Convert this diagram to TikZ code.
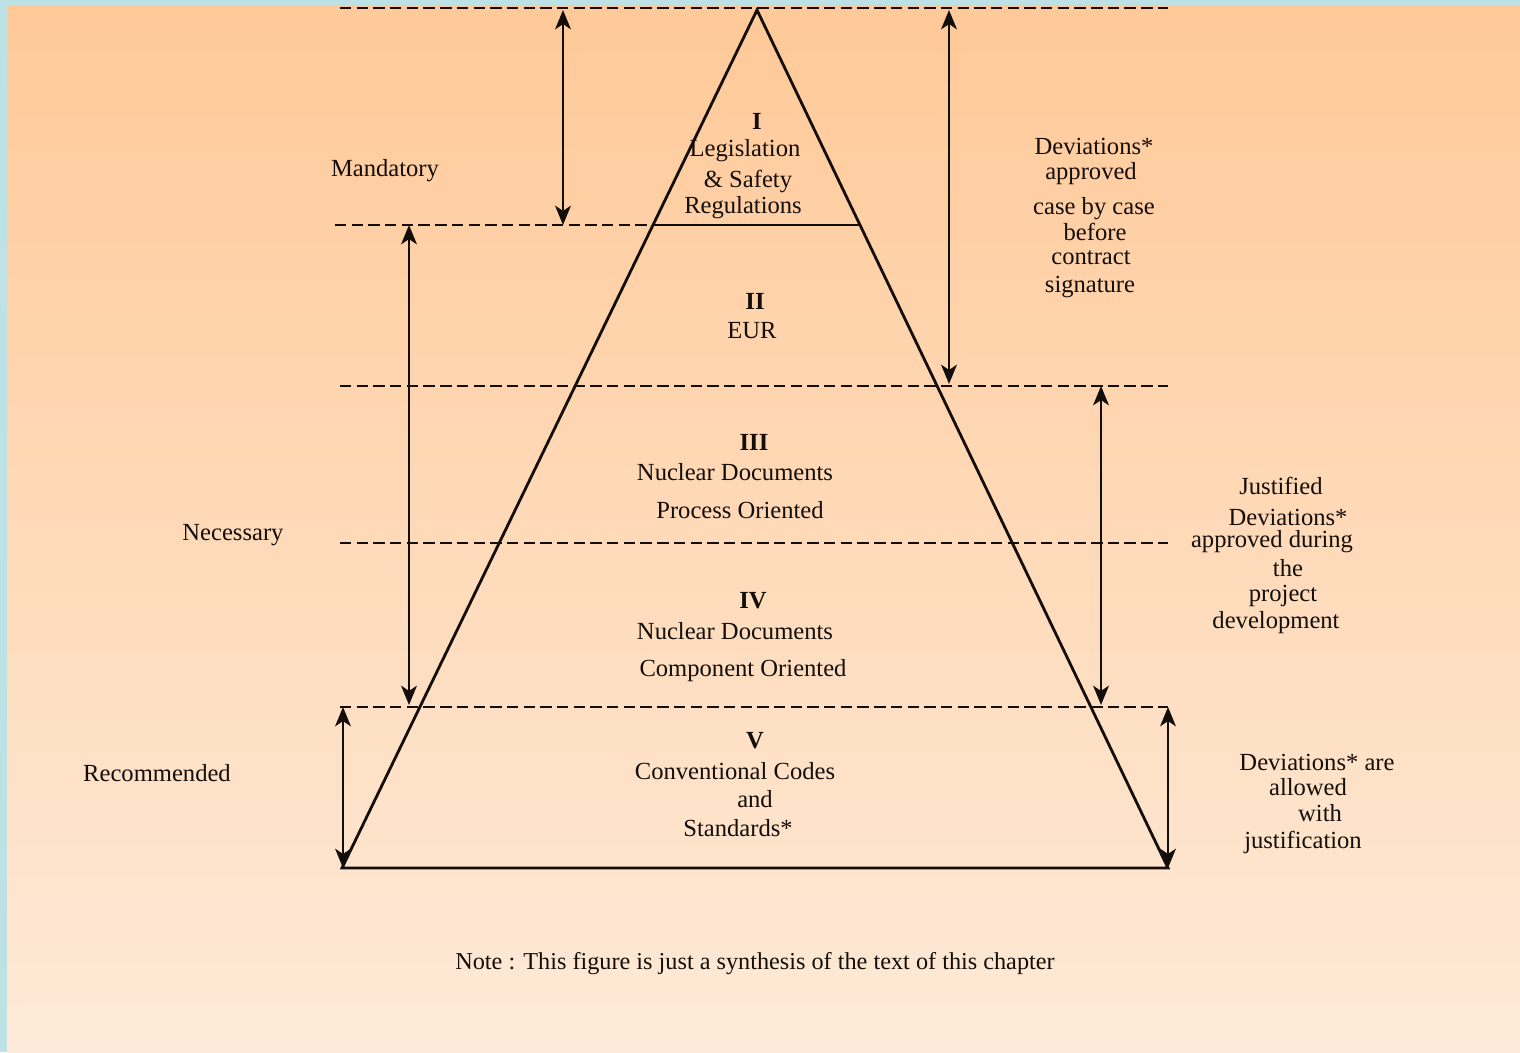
\documentclass[tikz,border=0pt]{standalone}
\usepackage{fontspec}
\setmainfont{Liberation Serif}
\usetikzlibrary{arrows.meta}
\definecolor{bluebord}{HTML}{BDE2E6}
\definecolor{peachtop}{HTML}{FFC998}
\definecolor{peachbot}{HTML}{FEEAD8}
\definecolor{ink}{HTML}{140E0A}
\tikzset{
  lvl/.style={draw=ink, line width=1.4pt, dash pattern=on 6.5pt off 3pt},
  edge/.style={draw=ink, line width=1.6pt},
  span/.style={draw=ink, line width=1.2pt, {Stealth[length=11pt,width=9pt,inset=3pt]}-{Stealth[length=11pt,width=9pt,inset=3pt]}},
  lbl/.style={text=ink, font=\fontsize{14}{14}\selectfont, inner sep=0pt, align=center},
  roman/.style={lbl, font=\fontsize{14}{14}\selectfont\bfseries},
}
\begin{document}
\begin{tikzpicture}[x=0.02cm,y=-0.02cm]
\useasboundingbox (0,0) rectangle (1520,1052);
\fill[bluebord] (0,0) rectangle (1520,1052);
\shade[top color=peachtop, bottom color=peachbot] (7,5) rectangle (1520,1052);

% pyramid vertices
\coordinate (apex) at (757,10);
\coordinate (bl) at (342,868);
\coordinate (br) at (1168,868);
\coordinate (s1l) at (653,225);
\coordinate (s1r) at (861,225);

% level lines
\coordinate (l0a) at (340,8);   \coordinate (l0b) at (1168,8);
\coordinate (l1a) at (335,225);
\coordinate (l2a) at (340,386); \coordinate (l2b) at (1168,386);
\coordinate (l3a) at (340,543); \coordinate (l3b) at (1168,543);
\coordinate (l4a) at (340,707); \coordinate (l4b) at (1168,707);

\draw[lvl] (l0a) -- (l0b);
\draw[lvl] (l1a) -- (s1l);
\draw[lvl] (l2a) -- (l2b);
\draw[lvl] (l3a) -- (l3b);
\draw[lvl] (l4a) -- (l4b);

\draw[edge] (s1l) -- (s1r);
\draw[edge, line join=miter] (bl) -- (apex) -- (br) -- cycle;

% span arrows
\coordinate (m1) at (563,10);  \coordinate (m2) at (563,225);
\coordinate (n1) at (409,225); \coordinate (n2) at (409,705);
\coordinate (r1) at (343,707); \coordinate (r2) at (343,868);
\coordinate (d1) at (949,10);  \coordinate (d2) at (949,384);
\coordinate (j1) at (1101,386); \coordinate (j2) at (1101,705);
\coordinate (a1) at (1168,707); \coordinate (a2) at (1168,868);
\draw[span] (m1) -- (m2);
\draw[span] (n1) -- (n2);
\draw[span] (r1) -- (r2);
\draw[span] (d1) -- (d2);
\draw[span] (j1) -- (j2);
\draw[span] (a1) -- (a2);

% level texts
\node[roman] (t1) at (757,121) {I};
\node[lbl] (t1a) at (745,151) {Legislation};
\node[lbl] (t1b) at (748,181) {\& Safety};
\node[lbl] (t1c) at (743,208) {Regulations};
\node[roman] (t2) at (755,301) {II};
\node[lbl] (t2a) at (752,331) {EUR};
\node[roman] (t3) at (754,442) {III};
\node[lbl] (t3a) at (735,472) {Nuclear Documents};
\node[lbl] (t3b) at (740,510) {Process Oriented};
\node[roman] (t4) at (753,601) {IV};
\node[lbl] (t4a) at (735,631) {Nuclear Documents};
\node[lbl] (t4b) at (743,671) {Component Oriented};
\node[roman] (t5) at (755,741) {V};
\node[lbl] (t5a) at (735,771) {Conventional Codes};
\node[lbl] (t5b) at (755,799) {and};
\node[lbl] (t5c) at (738,828) {Standards*};

% left labels
\node[lbl] (mand) at (385,171) {Mandatory};
\node[lbl] (nec) at (233,535) {Necessary};
\node[lbl] (rec) at (157,773) {Recommended};

% right labels
\node[lbl] (ra1) at (1094,146) {Deviations*};
\node[lbl] (ra2) at (1091,174) {approved};
\node[lbl] (ra3) at (1094,209) {case by case};
\node[lbl] (ra4) at (1095,232) {before};
\node[lbl] (ra5) at (1091,258) {contract};
\node[lbl] (ra6) at (1090,287) {signature};

\node[lbl] (rb1) at (1281,486) {Justified};
\node[lbl] (rb2) at (1288,517) {Deviations*};
\node[lbl] (rb3) at (1272,542) {approved during};
\node[lbl] (rb4) at (1288,568) {the};
\node[lbl] (rb5) at (1283,596) {project};
\node[lbl] (rb6) at (1276,623) {development};

\node[lbl] (rc1) at (1317,762) {Deviations* are};
\node[lbl] (rc2) at (1308,787) {allowed};
\node[lbl] (rc3) at (1320,813) {with};
\node[lbl] (rc4) at (1303,842) {justification};

\node[lbl, font=\fontsize{13.8}{13.8}\selectfont] (note) at (755,964) {Note : This figure is just a synthesis of the text of this chapter};
\end{tikzpicture}
\end{document}
